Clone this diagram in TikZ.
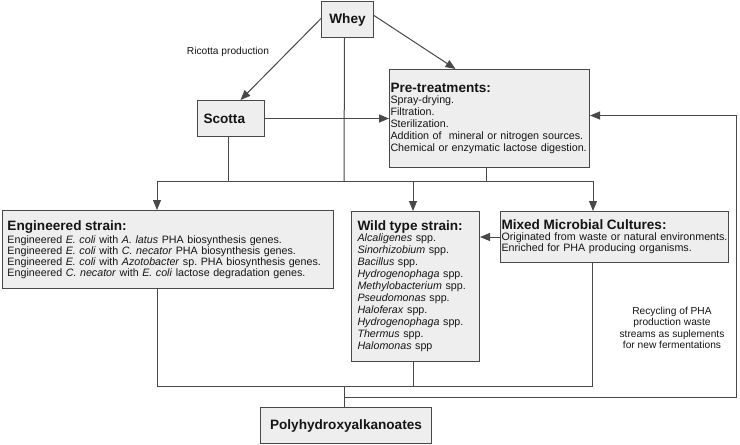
\documentclass[tikz,border=0pt]{standalone}
\usepackage{fontspec}
\setmainfont{Liberation Sans}
\usetikzlibrary{arrows.meta,calc}
\frenchspacing
\definecolor{boxfill}{HTML}{EEEEEE}
\definecolor{edge}{HTML}{484848}
\definecolor{ink}{HTML}{151515}
\newcommand{\ttl}[1]{{\fontsize{13.6}{14}\selectfont\bfseries #1}}
\tikzset{
  box/.style={draw=edge, fill=boxfill, line width=1pt, anchor=north west, inner ysep=0pt, text=ink, font=\fontsize{10.7}{12}\selectfont},
  conn/.style={draw=edge, line width=1pt},
  arr/.style={conn, -{Triangle[length=10pt,width=8pt]}},
  lbl/.style={text=ink, font=\fontsize{10.2}{11.5}\selectfont, inner sep=0pt}
}
\begin{document}
\begin{tikzpicture}[x=1pt,y=-1pt]
\useasboundingbox[fill=white] (0,0) rectangle (740,445);

% boxes
\node[box, minimum width=52pt, minimum height=36pt, inner xsep=0pt, align=center] (whey) at (321,1) {\ttl{Whey}};
\node[box, minimum width=67pt, minimum height=36pt, inner xsep=6pt, text width=55pt, align=left] (scotta) at (197,100) {\ttl{Scotta}};
\node[box, minimum width=200pt, minimum height=98pt, inner xsep=1pt, text width=198pt, align=left] (pre) at (389,69)
  {\ttl{Pre-treatments:}\\[-1pt]
   Spray-drying.\\
   Filtration.\\
   Sterilization.\\
   Addition of\ \ mineral or nitrogen sources.\\
   Chemical or enzymatic lactose digestion.};
\node[box, minimum width=331pt, minimum height=78pt, inner xsep=5pt, text width=321pt, align=left, font=\fontsize{10.7}{9.6}\selectfont] (eng) at (2,210)
  {\ttl{Engineered strain:}\\[1pt]
   Engineered \textit{E. coli} with \textit{A. latus} PHA biosynthesis genes.\\
   Engineered \textit{E. coli} with \textit{C. necator} PHA biosynthesis genes.\\
   Engineered \textit{E. coli} with \textit{Azotobacter} sp. PHA biosynthesis genes.\\
   Engineered \textit{C. necator} with \textit{E. coli} lactose degradation genes.};
\node[box, minimum width=128pt, minimum height=150pt, inner xsep=6pt, text width=116pt, align=left] (wild) at (351,211)
  {\ttl{Wild type strain:}\\[-1pt]
   \textit{Alcaligenes} spp.\\
   \textit{Sinorhizobium} spp.\\
   \textit{Bacillus} spp.\\
   \textit{Hydrogenophaga} spp.\\
   \textit{Methylobacterium} spp.\\
   \textit{Pseudomonas} spp.\\
   \textit{Haloferax} spp.\\
   \textit{Hydrogenophaga} spp.\\
   \textit{Thermus} spp.\\
   \textit{Halomonas} spp};
\node[box, minimum width=228pt, minimum height=51pt, inner xsep=1pt, text width=226pt, align=left, font=\fontsize{10.7}{11}\selectfont] (mixed) at (500,211)
  {\ttl{Mixed Microbial Cultures:}\\[0pt]
   Originated from waste or natural environments.\\
   Enriched for PHA producing organisms.};
\node[box, minimum width=171pt, minimum height=36pt, inner xsep=0pt, align=center] (pha) at (260,407) {\ttl{Polyhydroxyalkanoates}};

% labels
\node[lbl] (ric) at (228,52) {Ricotta production};
\node[lbl, align=center] (rec) at (672,328) {Recycling of PHA\\production waste\\streams as suplements\\for new fermentations};

% junction coordinates
\coordinate (jw) at (344,181);
\coordinate (bl) at (157,181);
\coordinate (bw) at (413,181);
\coordinate (br) at (593,181);
\coordinate (ll) at (157,386);
\coordinate (lw) at (413,386);
\coordinate (lr) at (592,386);
\coordinate (lp) at (344,386);
\coordinate (rp) at (344,397);
\coordinate (rc) at (736,397);

% connectors top
\draw[arr] ([yshift=1pt]whey.west) -- ([xshift=9.5pt]scotta.north);
\draw[arr] ([yshift=4pt]whey.east) -- ([xshift=-34pt]pre.north);
\draw[conn] ([xshift=-3pt]whey.south) -- (jw);
\draw[conn] ([xshift=-2.5pt]scotta.south) -- ([xshift=-2.5pt]scotta.south |- bl);
\draw[conn] ([xshift=-3pt]pre.south) -- ([xshift=-3pt]pre.south |- bl);
\draw[conn] (bl) -- (br);
\draw[arr] (bl) -- (bl |- eng.north);
\draw[arr] (bw) -- (bw |- wild.north);
\draw[arr] (br) -- (br |- mixed.north);
\draw[arr] (scotta.east) -- (scotta.east -| pre.west);
\draw[arr] (mixed.west) -- (mixed.west -| wild.east);

% connectors bottom
\draw[conn] (ll |- eng.south) -- (ll) -- (lr) -- (lr |- mixed.south);
\draw[conn] (lw |- wild.south) -- (lw);
\draw[conn] (lp) -- (lp |- pha.north);
\draw[arr] (rp) -- (rc) |- ([yshift=3pt]pre.east);
\end{tikzpicture}
\end{document}
